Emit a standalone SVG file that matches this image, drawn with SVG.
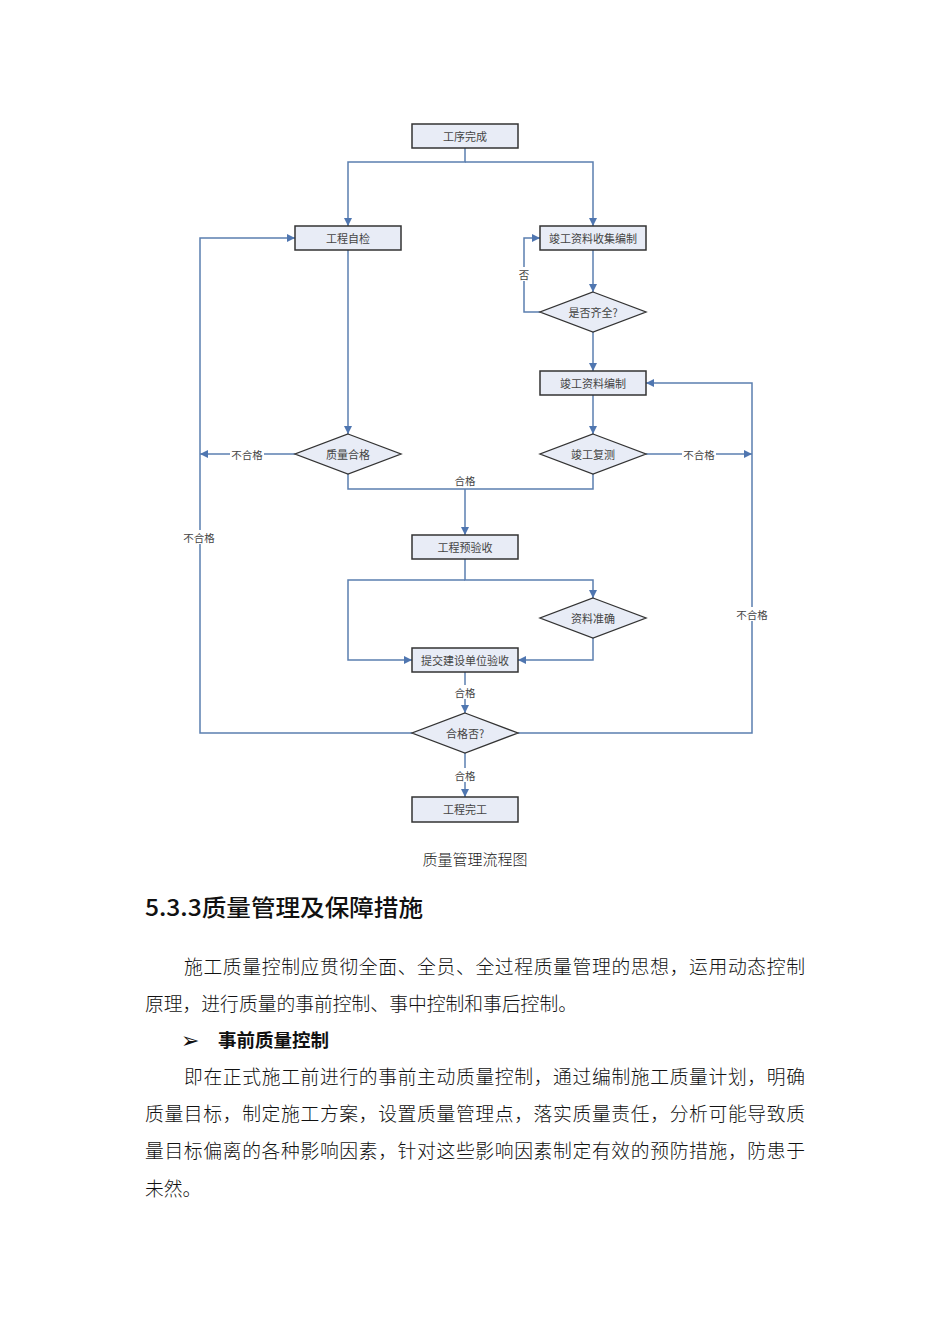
<svg xmlns="http://www.w3.org/2000/svg" width="950" height="1344" viewBox="0 0 950 1344">
<style>
.box{fill:#e8ecf6;stroke:#333;stroke-width:1.5}
.dia{fill:#e8ecf6;stroke:#333;stroke-width:1.3}
.t{font-family:"Noto Sans CJK SC",sans-serif;font-size:11px;fill:#444;text-anchor:middle;dominant-baseline:central}
.c{fill:none;stroke:#5b7fb0;stroke-width:1.5}
.lbl{font-family:"Noto Sans CJK SC",sans-serif;font-size:10.5px;fill:#444;text-anchor:middle;dominant-baseline:central}
.bg{fill:#fff}
.body{font-family:"Noto Sans CJK SC",sans-serif;font-size:18.8px;fill:#111;font-weight:300}
</style>
<defs>
<marker id="ar" viewBox="0 0 10 10" refX="10" refY="5" markerWidth="9" markerHeight="8" markerUnits="userSpaceOnUse" orient="auto">
<path d="M0,0 L10,5 L0,10 z" fill="#4f76b0"/>
</marker>
</defs>
<rect width="950" height="1344" fill="#fff"/>
<g id="connectors">
<path class="c" d="M465,148 V162 H348 V226" marker-end="url(#ar)"/>
<path class="c" d="M465,162 H593 V226" marker-end="url(#ar)"/>
<path class="c" d="M348,250 V434" marker-end="url(#ar)"/>
<path class="c" d="M593,250 V292" marker-end="url(#ar)"/>
<path class="c" d="M540,312 H524 V238 H540" marker-end="url(#ar)"/>
<path class="c" d="M593,332 V371" marker-end="url(#ar)"/>
<path class="c" d="M593,395 V434" marker-end="url(#ar)"/>
<path class="c" d="M295,454 H200" marker-end="url(#ar)"/>
<path class="c" d="M646,454 H752" marker-end="url(#ar)"/>
<path class="c" d="M348,474 V489 H593 V474"/>
<path class="c" d="M465,489 V535" marker-end="url(#ar)"/>
<path class="c" d="M465,559 V580 H593 V598" marker-end="url(#ar)"/>
<path class="c" d="M465,580 H348 V660 H412" marker-end="url(#ar)"/>
<path class="c" d="M593,638 V660 H518" marker-end="url(#ar)"/>
<path class="c" d="M465,672 V713" marker-end="url(#ar)"/>
<path class="c" d="M412,733 H200 V238 H295" marker-end="url(#ar)"/>
<path class="c" d="M518,733 H752 V383 H646" marker-end="url(#ar)"/>
<path class="c" d="M465,753 V797" marker-end="url(#ar)"/>
<rect class="bg" x="518" y="267" width="12" height="14"/>
<text class="lbl" x="524" y="274">否</text>
<rect class="bg" x="230" y="447" width="34" height="14"/>
<text class="lbl" x="247" y="454">不合格</text>
<rect class="bg" x="682" y="447" width="34" height="14"/>
<text class="lbl" x="699" y="454">不合格</text>
<text class="lbl" x="465" y="480">合格</text>
<rect class="bg" x="182" y="530" width="34" height="14"/>
<text class="lbl" x="199" y="537">不合格</text>
<rect class="bg" x="735" y="607" width="34" height="14"/>
<text class="lbl" x="752" y="614">不合格</text>
<rect class="bg" x="453" y="685" width="24" height="14"/>
<text class="lbl" x="465" y="692">合格</text>
<rect class="bg" x="453" y="768" width="24" height="14"/>
<text class="lbl" x="465" y="775">合格</text>
</g>
<g id="n1"><rect class="box" x="412" y="124" width="106" height="24"/><text class="t" x="465" y="136">工序完成</text></g>
<g id="n2"><rect class="box" x="295" y="226" width="106" height="24"/><text class="t" x="348" y="238">工程自检</text></g>
<g id="n3"><rect class="box" x="540" y="226" width="106" height="24"/><text class="t" x="593" y="238">竣工资料收集编制</text></g>
<g id="n4"><polygon class="dia" points="593,292 646,312 593,332 540,312"/><text class="t" x="593" y="312">是否齐全?</text></g>
<g id="n5"><rect class="box" x="540" y="371" width="106" height="24"/><text class="t" x="593" y="383">竣工资料编制</text></g>
<g id="n6"><polygon class="dia" points="348,434 401,454 348,474 295,454"/><text class="t" x="348" y="454">质量合格</text></g>
<g id="n7"><polygon class="dia" points="593,434 646,454 593,474 540,454"/><text class="t" x="593" y="454">竣工复测</text></g>
<g id="n8"><rect class="box" x="412" y="535" width="106" height="24"/><text class="t" x="465" y="547">工程预验收</text></g>
<g id="n9"><polygon class="dia" points="593,598 646,618 593,638 540,618"/><text class="t" x="593" y="618">资料准确</text></g>
<g id="n10"><rect class="box" x="412" y="648" width="106" height="24"/><text class="t" x="465" y="660">提交建设单位验收</text></g>
<g id="n11"><polygon class="dia" points="465,713 518,733 465,753 412,733"/><text class="t" x="465" y="733">合格否?</text></g>
<g id="n12"><rect class="box" x="412" y="797" width="106" height="25"/><text class="t" x="465" y="809">工程完工</text></g>
<g id="text">
<text x="475" y="865" font-family="Noto Sans CJK SC, sans-serif" font-size="15" fill="#222" text-anchor="middle" font-weight="300">质量管理流程图</text>
<text x="145" y="916" font-family="Noto Sans CJK SC, sans-serif" font-size="23" fill="#111" font-weight="500" textLength="278" lengthAdjust="spacingAndGlyphs">5.3.3质量管理及保障措施</text>
<text class="body" x="184" y="974" textLength="621" lengthAdjust="spacing">施工质量控制应贯彻全面、全员、全过程质量管理的思想，运用动态控制</text>
<text class="body" x="145" y="1011">原理，进行质量的事前控制、事中控制和事后控制。</text>
<text x="181" y="1048" font-family="DejaVu Sans, sans-serif" font-size="22" fill="#111">➢</text>
<text x="218" y="1047" font-family="Noto Sans CJK SC, sans-serif" font-size="18.5" fill="#111" font-weight="700">事前质量控制</text>
<text class="body" x="184" y="1084" textLength="621" lengthAdjust="spacing">即在正式施工前进行的事前主动质量控制，通过编制施工质量计划，明确</text>
<text class="body" x="145" y="1121" textLength="660" lengthAdjust="spacing">质量目标，制定施工方案，设置质量管理点，落实质量责任，分析可能导致质</text>
<text class="body" x="145" y="1158" textLength="660" lengthAdjust="spacing">量目标偏离的各种影响因素，针对这些影响因素制定有效的预防措施，防患于</text>
<text class="body" x="145" y="1196">未然。</text>
</g>
</svg>
